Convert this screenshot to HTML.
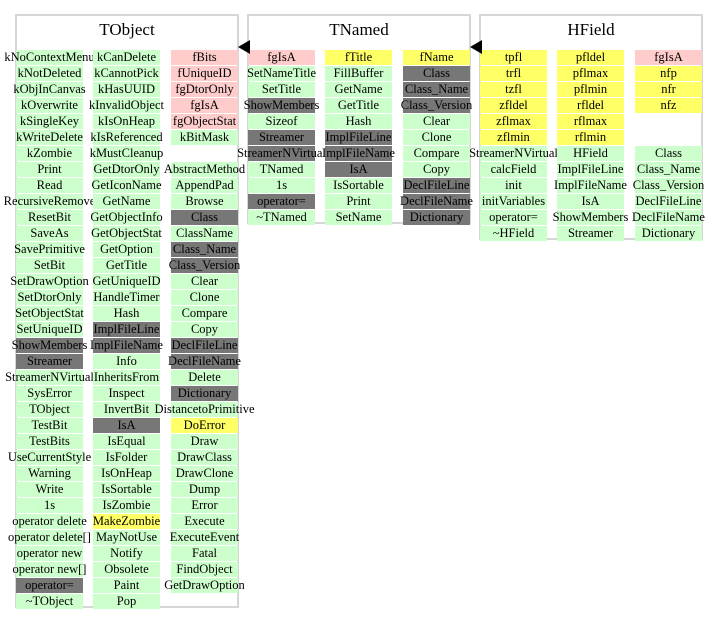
<!DOCTYPE html>
<html><head><meta charset="utf-8"><style>
html,body{margin:0;padding:0;background:#fff;width:717px;height:624px;overflow:hidden}
body{position:relative;font-family:"Liberation Serif",serif}
.box{position:absolute;border:2px solid #d6d6d6;box-sizing:border-box;border-bottom-width:2px}
.title{position:absolute;font-size:17px;text-align:center;line-height:20px}
.cell{position:absolute;height:15px;line-height:15px;font-size:12.5px;text-align:center;white-space:nowrap;color:#000}
.cell span{position:absolute;left:50%;transform:translateX(-50%);top:0}
.g{background:#ccffcc}.p{background:#ffcccc}.y{background:#ffff66}.d{background:#777777}
.arrow{position:absolute;width:0;height:0;border-top:7px solid transparent;border-bottom:7px solid transparent;border-right:12px solid #000}
</style></head><body>
<div id="root"></div>
<script>
// class boxes: name, left x, bottom y
const classNames=["TObject","TNamed","HField"];
const boxLeft=[16,248,480];
const boxBottom=[608,224,240];
// columns per class; each item "code:label" (g green, p pink, y yellow, d gray, e empty)
const tobjCol1=["g:kNoContextMenu","g:kNotDeleted","g:kObjInCanvas","g:kOverwrite","g:kSingleKey","g:kWriteDelete","g:kZombie","g:Print","g:Read","g:RecursiveRemove","g:ResetBit","g:SaveAs","g:SavePrimitive","g:SetBit","g:SetDrawOption","g:SetDtorOnly","g:SetObjectStat","g:SetUniqueID","d:ShowMembers","d:Streamer","g:StreamerNVirtual","g:SysError","g:TObject","g:TestBit","g:TestBits","g:UseCurrentStyle","g:Warning","g:Write","g:1s","g:operator delete","g:operator delete[]","g:operator new","g:operator new[]","d:operator=","g:~TObject"];
const tobjCol2=["g:kCanDelete","g:kCannotPick","g:kHasUUID","g:kInvalidObject","g:kIsOnHeap","g:kIsReferenced","g:kMustCleanup","g:GetDtorOnly","g:GetIconName","g:GetName","g:GetObjectInfo","g:GetObjectStat","g:GetOption","g:GetTitle","g:GetUniqueID","g:HandleTimer","g:Hash","d:ImplFileLine","d:ImplFileName","g:Info","g:InheritsFrom","g:Inspect","g:InvertBit","d:IsA","g:IsEqual","g:IsFolder","g:IsOnHeap","g:IsSortable","g:IsZombie","y:MakeZombie","g:MayNotUse","g:Notify","g:Obsolete","g:Paint","g:Pop"];
const tobjCol3=["p:fBits","p:fUniqueID","p:fgDtorOnly","p:fgIsA","p:fgObjectStat","g:kBitMask","e:","g:AbstractMethod","g:AppendPad","g:Browse","d:Class","g:ClassName","d:Class_Name","d:Class_Version","g:Clear","g:Clone","g:Compare","g:Copy","d:DeclFileLine","d:DeclFileName","g:Delete","d:Dictionary","g:DistancetoPrimitive","y:DoError","g:Draw","g:DrawClass","g:DrawClone","g:Dump","g:Error","g:Execute","g:ExecuteEvent","g:Fatal","g:FindObject","g:GetDrawOption"];
const tnCol1=["p:fgIsA","g:SetNameTitle","g:SetTitle","d:ShowMembers","g:Sizeof","d:Streamer","d:StreamerNVirtual","g:TNamed","g:1s","d:operator=","g:~TNamed"];
const tnCol2=["y:fTitle","g:FillBuffer","g:GetName","g:GetTitle","g:Hash","d:ImplFileLine","d:ImplFileName","d:IsA","g:IsSortable","g:Print","g:SetName"];
const tnCol3=["y:fName","d:Class","d:Class_Name","d:Class_Version","g:Clear","g:Clone","g:Compare","g:Copy","d:DeclFileLine","d:DeclFileName","d:Dictionary"];
const hfCol1=["y:tpfl","y:trfl","y:tzfl","y:zfldel","y:zflmax","y:zflmin","g:StreamerNVirtual","g:calcField","g:init","g:initVariables","g:operator=","g:~HField"];
const hfCol2=["y:pfldel","y:pflmax","y:pflmin","y:rfldel","y:rflmax","y:rflmin","g:HField","g:ImplFileLine","g:ImplFileName","g:IsA","g:ShowMembers","g:Streamer"];
const hfCol3=["p:fgIsA","y:nfp","y:nfr","y:nfz","e:","e:","g:Class","g:Class_Name","g:Class_Version","g:DeclFileLine","g:DeclFileName","g:Dictionary"];
const classCols=[[tobjCol1,tobjCol2,tobjCol3],[tnCol1,tnCol2,tnCol3],[hfCol1,hfCol2,hfCol3]];
const root=document.getElementById('root');
const colOff=[0,77,155], colW=67, rowTop=50, rowPitch=16, boxW=222;
classNames.forEach((cn,ci)=>{
  const x=boxLeft[ci];
  const box=document.createElement('div');
  box.className='box';
  
  
  box.style.left=(x-1)+'px';box.style.top='14px';box.style.width=(boxW+2)+'px';box.style.height=(boxBottom[ci]-14)+'px';
  root.appendChild(box);
  const t=document.createElement('div');
  t.className='title';
  
  
  t.style.left=x+'px';t.style.top='20px';t.style.width=boxW+'px';
  t.textContent=cn;
  root.appendChild(t);
  classCols[ci].forEach((col,k)=>{
    col.forEach((it,r)=>{
      const i=it.indexOf(':');const c=it.slice(0,i), lab=it.slice(i+1);
      if(c==='e')return;
      const d=document.createElement('div');
      d.className='cell '+c;
      
      
      d.style.left=(x+colOff[k])+'px';d.style.top=(rowTop+r*rowPitch)+'px';d.style.width=colW+'px';
      const s=document.createElement('span');s.textContent=lab;d.appendChild(s);
      root.appendChild(d);
    });
  });
  if(ci>0){
    const a=document.createElement('div');
    a.className='arrow';
    
    
    a.style.left=(boxLeft[ci-1]+boxW)+'px';a.style.top='40px';
    root.appendChild(a);
  }
});
</script>
</body></html>
